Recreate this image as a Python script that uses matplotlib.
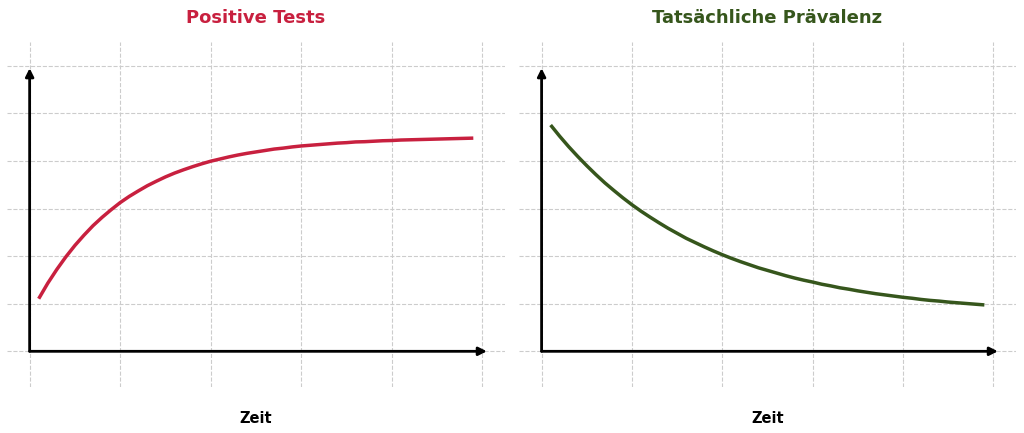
import matplotlib
matplotlib.use("Agg")
import matplotlib.pyplot as plt

# time axis (arbitrary units) and values
zeit = [0.2, 0.4, 0.6, 0.8, 1.0, 1.2, 1.4, 1.6, 1.8, 2.0,
        2.2, 2.4, 2.6, 2.8, 3.0, 3.2, 3.4, 3.6, 3.8, 4.0,
        4.2, 4.4, 4.6, 4.8, 5.0, 5.2, 5.4, 5.6, 5.8, 6.0,
        6.2, 6.4, 6.6, 6.8, 7.0, 7.2, 7.4, 7.6, 7.8, 8.0,
        8.2, 8.4, 8.6, 8.8, 9.0, 9.2, 9.4, 9.6, 9.8]
positive_tests = [0.221, 0.286, 0.344, 0.397, 0.445, 0.488, 0.528, 0.563, 0.595, 0.625,
                  0.651, 0.674, 0.696, 0.715, 0.733, 0.749, 0.763, 0.776, 0.788, 0.799,
                  0.808, 0.817, 0.825, 0.832, 0.838, 0.844, 0.850, 0.854, 0.859, 0.863,
                  0.866, 0.869, 0.872, 0.875, 0.877, 0.880, 0.881, 0.883, 0.885, 0.886,
                  0.888, 0.889, 0.890, 0.891, 0.892, 0.893, 0.894, 0.895, 0.896]
praevalenz = [0.951, 0.904, 0.860, 0.819, 0.780, 0.743, 0.708, 0.676, 0.645, 0.616,
              0.589, 0.564, 0.540, 0.517, 0.496, 0.475, 0.457, 0.439, 0.422, 0.406,
              0.391, 0.377, 0.364, 0.351, 0.340, 0.329, 0.318, 0.308, 0.299, 0.291,
              0.282, 0.275, 0.267, 0.261, 0.254, 0.248, 0.242, 0.237, 0.232, 0.227,
              0.223, 0.218, 0.214, 0.211, 0.207, 0.204, 0.201, 0.198, 0.195]

titles = ["Positive Tests", "Tatsächliche Prävalenz"]
colors = ["#c8203f", "#36561c"]
series = [positive_tests, praevalenz]

fig = plt.figure(figsize=(10.24, 4.33), dpi=100)
axes = [fig.add_axes([7/1024, 46/433, 498/1024, 345/433]),
        fig.add_axes([519/1024, 46/433, 497/1024, 345/433])]

for ax, title, color, values in zip(axes, titles, colors, series):
    ax.plot(zeit, values, color=color, lw=2.5, solid_capstyle="butt",
            solid_joinstyle="round")

    ax.set_xlim(-0.5, 10.5)
    ax.set_ylim(-0.15, 1.3)
    ax.set_xticks([0, 2, 4, 6, 8, 10])
    ax.set_yticks([0, 0.2, 0.4, 0.6, 0.8, 1.0, 1.2])
    ax.tick_params(length=0, labelbottom=False, labelleft=False)
    ax.grid(True, ls="--", lw=0.8, color="#cccccc")
    for s in ax.spines.values():
        s.set_visible(False)

    # axis arrows
    ax.annotate("", xy=(10.1, 0), xytext=(0, 0),
                arrowprops=dict(arrowstyle="-|>", lw=2, color="black",
                                shrinkA=0, shrinkB=0, mutation_scale=12))
    ax.annotate("", xy=(0, 1.19), xytext=(0, 0),
                arrowprops=dict(arrowstyle="-|>", lw=2, color="black",
                                shrinkA=0, shrinkB=0, mutation_scale=12))

    ax.set_title(title, color=color, fontsize=13, fontweight="bold", pad=14)
    ax.set_xlabel("Zeit", fontsize=10.5, fontweight="bold", labelpad=17.5)

fig.savefig("out.png", dpi=100)
